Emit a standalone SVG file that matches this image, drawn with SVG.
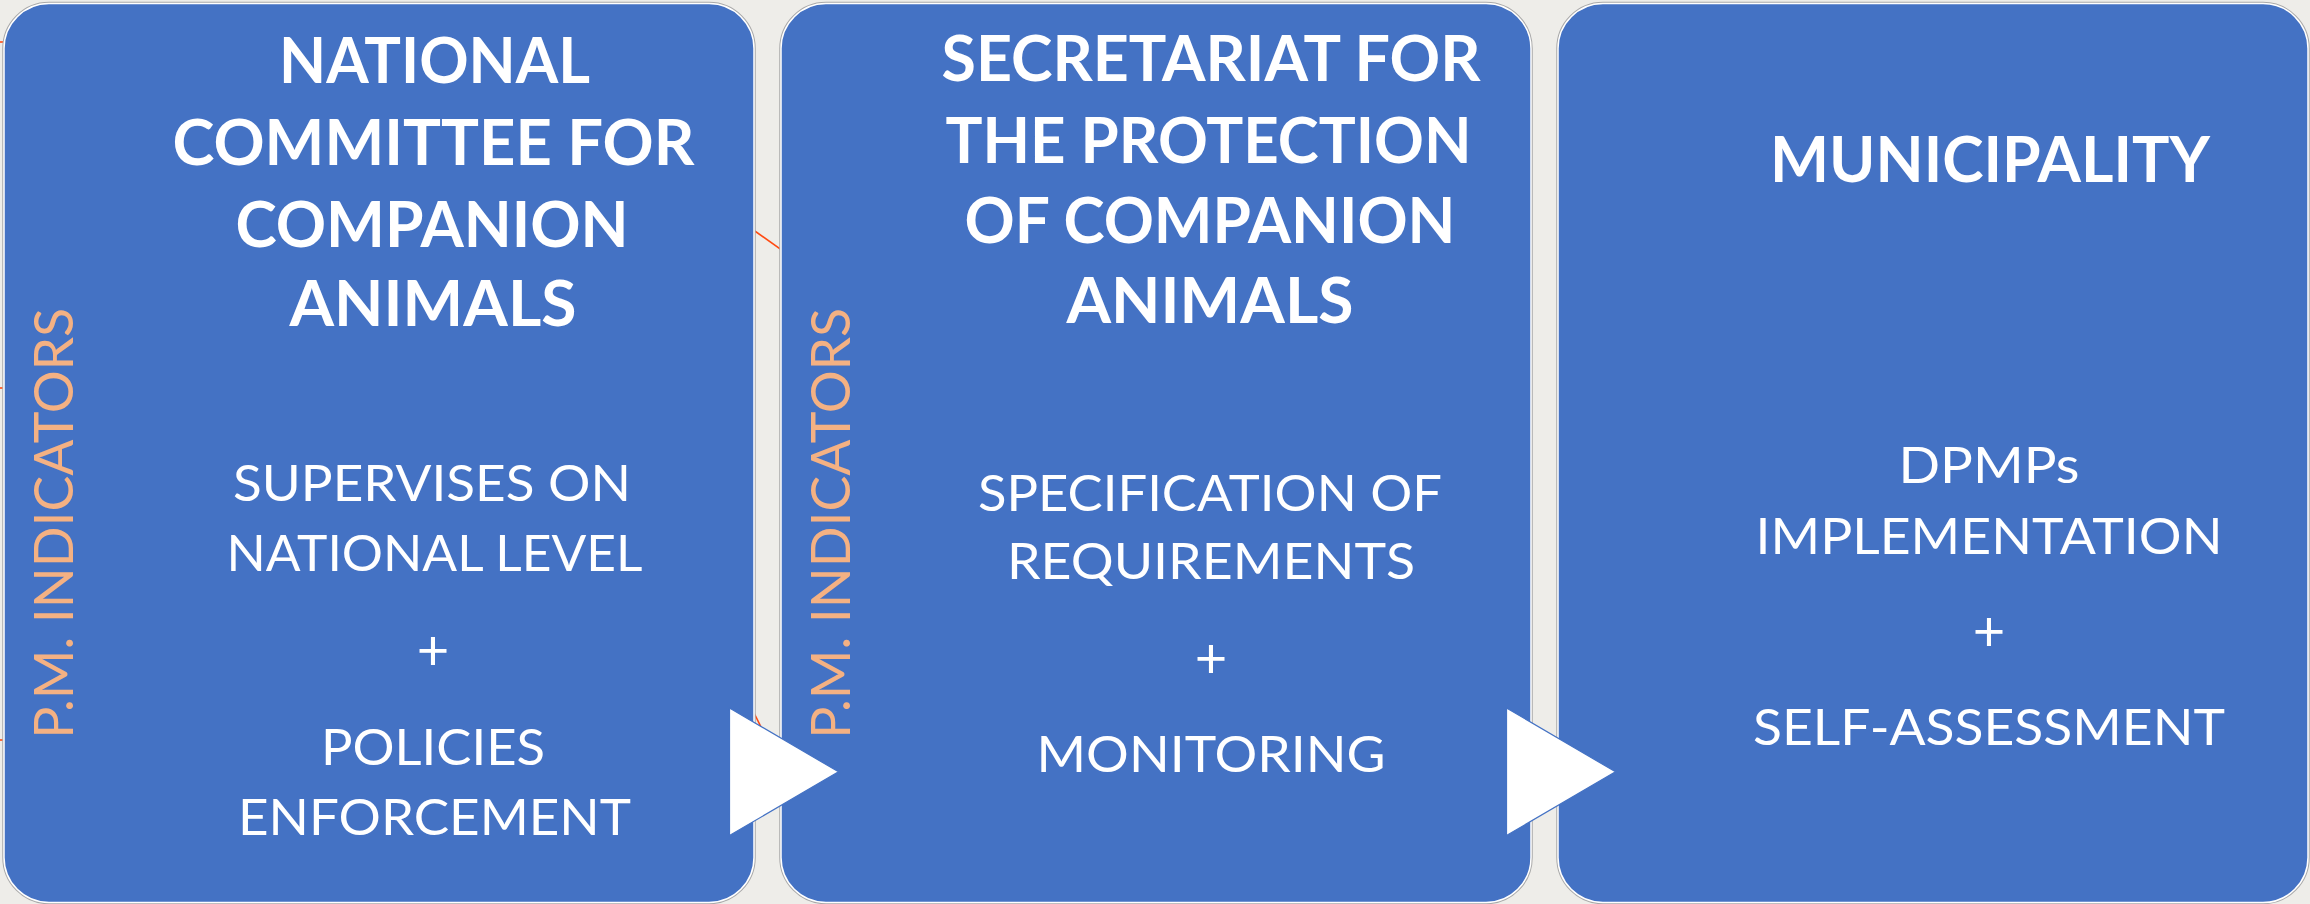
<svg xmlns="http://www.w3.org/2000/svg" width="2310" height="904" viewBox="0 0 2310 904">
  <style>
    .bg { fill: #EEEDE9; }
    .halo { fill: none; stroke: #A9A9A9; stroke-width: 3.5; }
    .box { fill: #4472C4; stroke: #FFFFFF; stroke-width: 1.5; }
    .title { font-family: Lato, "Noto Sans", "Liberation Sans", sans-serif; font-weight: 700; font-size: 64px; fill: #FFFFFF; text-anchor: middle; }
    .body { font-family: Lato, "Noto Sans", "Liberation Sans", sans-serif; font-weight: 400; font-size: 50px; fill: #FFFFFF; text-anchor: middle; }
    .plus { font-family: Lato, "Noto Sans", "Liberation Sans", sans-serif; font-weight: 400; font-size: 56px; fill: #FFFFFF; text-anchor: middle; }
    .side { font-family: Lato, "Noto Sans", "Liberation Sans", sans-serif; font-weight: 400; font-size: 55px; fill: #F4B183; text-anchor: middle; }
    .redline { stroke: #FF4A12; stroke-width: 1.6; fill: none; }
    .arrow { fill: #FFFFFF; stroke: #4472C4; stroke-width: 1.2; stroke-linejoin: miter; }
  </style>
  <rect class="bg" x="0" y="0" width="2310" height="904"/>

  <g id="hidden-lines">
    <line class="redline" x1="740" y1="220.5" x2="795" y2="259.5"/>
    <line class="redline" x1="750" y1="705" x2="770" y2="745"/>
    <line class="redline" x1="-5" y1="42" x2="6" y2="42"/>
    <line class="redline" x1="-5" y1="388" x2="6" y2="388"/>
    <line class="redline" x1="-5" y1="740" x2="6" y2="740"/>
  </g>

  <g id="node-committee">
    <rect class="halo" x="4" y="3.5" width="750" height="899" rx="45" ry="45"/>
    <rect class="box" x="4" y="3.5" width="750" height="899" rx="45" ry="45"/>
    <text class="title" x="434.5" y="83" textLength="311" lengthAdjust="spacingAndGlyphs">NATIONAL</text>
    <text class="title" x="433.5" y="165" textLength="522" lengthAdjust="spacingAndGlyphs">COMMITTEE FOR</text>
    <text class="title" x="432" y="247" textLength="393" lengthAdjust="spacingAndGlyphs">COMPANION</text>
    <text class="title" x="433" y="326" textLength="287" lengthAdjust="spacingAndGlyphs">ANIMALS</text>
    <text class="body" x="432" y="500.7" textLength="398" lengthAdjust="spacingAndGlyphs">SUPERVISES ON</text>
    <text class="body" x="434.5" y="570.7" textLength="416" lengthAdjust="spacingAndGlyphs">NATIONAL LEVEL</text>
    <text class="plus" x="433" y="670">+</text>
    <text class="body" x="433" y="765" textLength="224" lengthAdjust="spacingAndGlyphs">POLICIES</text>
    <text class="body" x="434.5" y="835" textLength="393" lengthAdjust="spacingAndGlyphs">ENFORCEMENT</text>
    <text class="side" transform="translate(73,523.3) rotate(-90)" x="0" y="0" textLength="431" lengthAdjust="spacingAndGlyphs">P.M. INDICATORS</text>
  </g>

  <g id="node-secretariat">
    <rect class="halo" x="781" y="3.5" width="750" height="899" rx="45" ry="45"/>
    <rect class="box" x="781" y="3.5" width="750" height="899" rx="45" ry="45"/>
    <text class="title" x="1211" y="81" textLength="539" lengthAdjust="spacingAndGlyphs">SECRETARIAT FOR</text>
    <text class="title" x="1208.5" y="163.3" textLength="526" lengthAdjust="spacingAndGlyphs">THE PROTECTION</text>
    <text class="title" x="1210" y="243.3" textLength="491" lengthAdjust="spacingAndGlyphs">OF COMPANION</text>
    <text class="title" x="1210" y="323.3" textLength="287" lengthAdjust="spacingAndGlyphs">ANIMALS</text>
    <text class="body" x="1210" y="511" textLength="464" lengthAdjust="spacingAndGlyphs">SPECIFICATION OF</text>
    <text class="body" x="1211" y="579.3" textLength="408" lengthAdjust="spacingAndGlyphs">REQUIREMENTS</text>
    <text class="plus" x="1211" y="678">+</text>
    <text class="body" x="1211" y="771.7" textLength="349" lengthAdjust="spacingAndGlyphs">MONITORING</text>
    <text class="side" transform="translate(850,523.3) rotate(-90)" x="0" y="0" textLength="431" lengthAdjust="spacingAndGlyphs">P.M. INDICATORS</text>
  </g>

  <g id="node-municipality">
    <rect class="halo" x="1558" y="3.5" width="750" height="899" rx="45" ry="45"/>
    <rect class="box" x="1558" y="3.5" width="750" height="899" rx="45" ry="45"/>
    <text class="title" x="1990" y="181.7" textLength="440" lengthAdjust="spacingAndGlyphs">MUNICIPALITY</text>
    <text class="body" x="1989" y="483.3" textLength="181" lengthAdjust="spacingAndGlyphs">DPMPs</text>
    <text class="body" x="1989" y="554" textLength="467" lengthAdjust="spacingAndGlyphs">IMPLEMENTATION</text>
    <text class="plus" x="1989" y="651">+</text>
    <text class="body" x="1989" y="745" textLength="472" lengthAdjust="spacingAndGlyphs">SELF-ASSESSMENT</text>
  </g>

  <g id="connectors">
    <polygon class="arrow" points="729.5,708 838.5,771.8 729.5,835.5"/>
    <polygon class="arrow" points="1506.5,708 1615.5,771.8 1506.5,835.5"/>
  </g>
</svg>
